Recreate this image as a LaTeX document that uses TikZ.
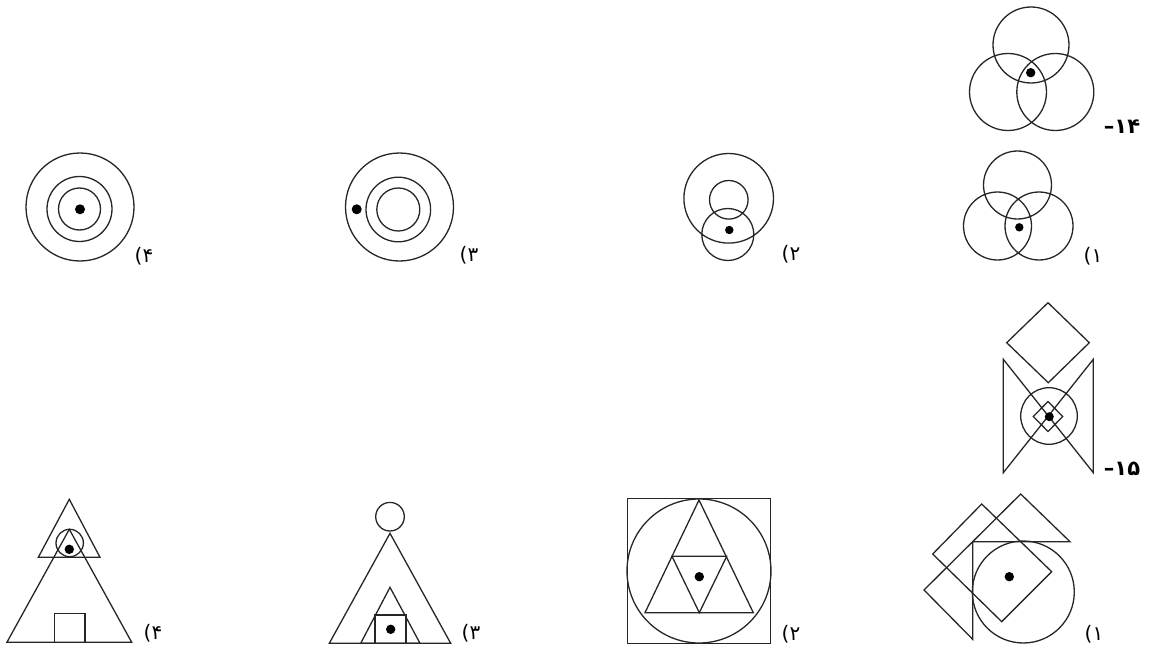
\documentclass[tikz,border=0pt]{standalone}
\usepackage{fontspec}
\newfontfamily\fa{DejaVu Sans}
\begin{document}
\begin{tikzpicture}[x=1pt,y=-1pt,
  ln/.style={draw=black!85,line width=1.3pt,line join=miter},
  dotf/.style={fill=black},
  lab/.style={font=\fa\fontsize{20}{20}\selectfont,inner sep=0pt},
  qlab/.style={font=\fa\bfseries\fontsize{21}{21}\selectfont,inner sep=0pt}]
\useasboundingbox (0,0) rectangle (1154,650);
% ---- Question 14
\draw[ln] (1031,45) circle[radius=38pt] (1008,92) circle[radius=38.5pt] (1055.3,92) circle[radius=38.5pt];
\fill[dotf] (1030.7,72.7) circle[radius=4.7pt];
\node[qlab] (q14) at (1122,127) {–۱۴};
% ---- option 1 (top)
\draw[ln] (1017.5,185) circle[radius=34pt] (997.5,226) circle[radius=34pt] (1039,226) circle[radius=34pt];
\fill[dotf] (1019.3,227.3) circle[radius=4.2pt];
\node[lab] (a1) at (1093,256) {(۱};
% ---- option 2 (top)
\draw[ln] (728.7,198.3) circle[radius=44.8pt] (728.8,199.8) circle[radius=19.3pt] (727.8,234.5) circle[radius=26pt];
\fill[dotf] (729.3,230) circle[radius=4.2pt];
\node[lab] (a2) at (791,254) {(۲};
% ---- option 3 (top)
\draw[ln] (399.5,207) circle[radius=54pt] (398.3,209.5) circle[radius=32.3pt] (398.3,209.5) circle[radius=21.5pt];
\fill[dotf] (356.7,209.3) circle[radius=5pt];
\node[lab] (a3) at (469,255) {(۳};
% ---- option 4 (top)
\draw[ln] (80,207) circle[radius=54pt] (79.5,209) circle[radius=32.5pt] (79.5,209) circle[radius=21pt];
\fill[dotf] (80,209.3) circle[radius=5pt];
\node[lab] (a4) at (144,256) {(۴};
% ---- Question 15
\draw[ln] (1048,302.7) -- (1089.3,342.7) -- (1048.3,382.7) -- (1006.7,342.7) -- cycle;
\draw[ln] (1003.3,359.3) -- (1093.3,472.7) -- (1093.3,359.3) -- (1003.3,472.7) -- cycle;
\draw[ln] (1049,416) circle[radius=28.3pt];
\draw[ln] (1048,401.5) -- (1062.7,416.5) -- (1048,431.5) -- (1033.3,416.5) -- cycle;
\fill[dotf] (1049.3,416.7) circle[radius=4.5pt];
\node[qlab] (q15) at (1122,469) {–۱۵};
% ---- option 1 (bottom)
\draw[ln] (981.7,504) -- (1051.7,571.7) -- (1001.7,621.7) -- (932.7,554) -- cycle;
\draw[ln] (1020.7,494) -- (1070,541.7) -- (972.7,541.7) -- (972.7,639.3) -- (924,590) -- cycle;
\draw[ln] (1023.3,592) circle[radius=51pt];
\fill[dotf] (1009.3,576.7) circle[radius=4.7pt];
\node[lab] (b1) at (1094,634) {(۱};
% ---- option 2 (bottom)
\draw[ln] (627.3,498.3) rectangle (770.7,643.3);
\draw[ln] (699,571) circle[radius=72pt];
\draw[ln] (699,500) -- (753.3,612.7) -- (645,612.7) -- cycle;
\draw[ln] (672,556.3) -- (726.7,556.3) -- (699.3,612.7) -- cycle;
\fill[dotf] (699.3,576.7) circle[radius=4.7pt];
\node[lab] (b2) at (791,634) {(۲};
% ---- option 3 (bottom)
\draw[ln] (390,516.7) circle[radius=14.3pt];
\draw[ln] (390,533.3) -- (450.7,643.3) -- (329.3,643.3) -- cycle;
\draw[ln] (390,587.3) -- (420,643.3) -- (360.7,643.3) -- cycle;
\draw[ln] (375,615) rectangle (406,643.3);
\fill[dotf] (390.7,629.3) circle[radius=4.7pt];
\node[lab] (b3) at (471,633) {(۳};
% ---- option 4 (bottom)
\draw[ln] (69.3,499.3) -- (100,557.3) -- (38.3,557.3) -- cycle;
\draw[ln] (69.7,543) circle[radius=13.7pt];
\draw[ln] (69.3,529.3) -- (131.7,642.3) -- (6.9,642.3) -- cycle;
\draw[ln] (54.3,613.3) rectangle (85,642.3);
\fill[dotf] (69.3,549.3) circle[radius=4.7pt];
\node[lab] (b4) at (153,633) {(۴};
\end{tikzpicture}
\end{document}
